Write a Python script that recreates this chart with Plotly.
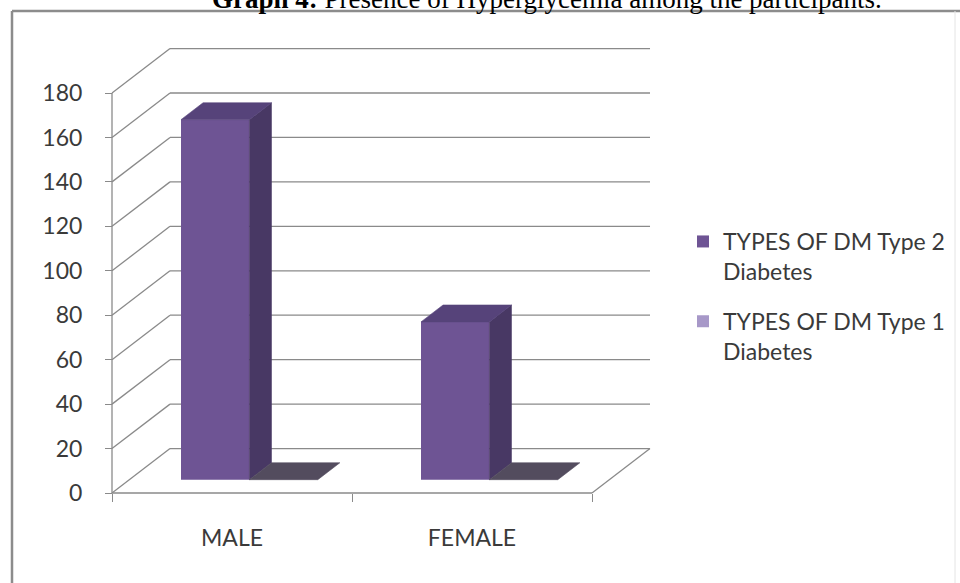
import plotly.graph_objects as go

# ---- data -------------------------------------------------------------
categories = ["MALE", "FEMALE"]
type2_values = [162, 71]
type1_values = [0, 0]
series_names = ["TYPES OF DM Type 2<br>Diabetes", "TYPES OF DM Type 1<br>Diabetes"]
tick_values = [0, 20, 40, 60, 80, 100, 120, 140, 160, 180]

# ---- colours ----------------------------------------------------------
TYPE2_FRONT = "#6E5494"
TYPE2_SIDE = "#483864"
TYPE2_TOP = "#56437A"
TYPE1_LEGEND = "#A798C8"
TYPE1_FLAT = "#534C5E"
GRID = "#8A8A8A"
TEXT = "#3A3A3A"

# ---- pseudo-3D geometry (axis units) ----------------------------------
DX = 0.2417      # horizontal shift of the back wall, in category units
DY = 20          # vertical shift of the back wall, in value units
D0, D1 = 0.30, 0.68   # depth slab the bars stand in (0 = front, 1 = back)
W = 0.285        # bar width in category units

# plot box and ranges
L, R, T, B = 107, 305, 44, 86
FIG_W, FIG_H = 960, 583
PLOT_W = FIG_W - L - R
PLOT_H = FIG_H - T - B
X0 = -0.5 - 5 / 240.0
X1 = X0 + PLOT_W / 240.0
Y0 = -4 / 2.2222
Y1 = Y0 + PLOT_H / 2.2222

positions = list(range(len(categories)))
boundaries = [p - 0.5 for p in positions] + [positions[-1] + 0.5]


def paper_x(px):
    return (px - L) / PLOT_W


def paper_y(py):
    return (FIG_H - B - py) / PLOT_H


def proj(x, v, d):
    return x + d * DX, v + d * DY


fig = go.Figure()

# front faces of the bars (also give the legend entries)
fig.add_trace(go.Bar(
    x=positions, y=type2_values, base=[D0 * DY] * len(categories),
    width=W, offset=-W + D0 * DX, name=series_names[0],
    marker=dict(color=TYPE2_FRONT, line=dict(width=0)),
    legendgroup="t2", hoverinfo="skip",
))
fig.add_trace(go.Bar(
    x=positions, y=type1_values, base=[D0 * DY] * len(categories),
    width=W, offset=D0 * DX, name=series_names[1],
    marker=dict(color=TYPE1_LEGEND, line=dict(width=0)),
    legendgroup="t1", hoverinfo="skip",
))


def add_poly(pts, color):
    xs = [p[0] for p in pts] + [pts[0][0]]
    ys = [p[1] for p in pts] + [pts[0][1]]
    fig.add_trace(go.Scatter(
        x=xs, y=ys, mode="lines", fill="toself", fillcolor=color,
        line=dict(width=0.6, color=color), showlegend=False, hoverinfo="skip",
    ))


# top and side faces
for i, val in zip(positions, type2_values):
    xl, xr = i - W, i
    add_poly([proj(xr, 0, D0), proj(xr, 0, D1), proj(xr, val, D1), proj(xr, val, D0)], TYPE2_SIDE)
    add_poly([proj(xl, val, D0), proj(xr, val, D0), proj(xr, val, D1), proj(xl, val, D1)], TYPE2_TOP)

for i, val in zip(positions, type1_values):
    xl, xr = i, i + W
    if val > 0:
        add_poly([proj(xr, 0, D0), proj(xr, 0, D1), proj(xr, val, D1), proj(xr, val, D0)], TYPE2_SIDE)
    add_poly([proj(xl, val, D0), proj(xr, val, D0), proj(xr, val, D1), proj(xl, val, D1)], TYPE1_FLAT)

# walls: gridlines on side + back wall, floor edges, front value axis
shapes = []
x_left, x_right = boundaries[0], boundaries[-1]
for v in tick_values:
    bx, by = proj(x_left, v, 1)
    shapes.append(dict(type="line", xref="x", yref="y", x0=x_left, y0=v, x1=bx, y1=by,
                       line=dict(color=GRID, width=1.3), layer="below"))
    ex, ey = proj(x_right, v, 1)
    shapes.append(dict(type="line", xref="x", yref="y", x0=bx, y0=by, x1=ex, y1=ey,
                       line=dict(color=GRID, width=1.3), layer="below"))
shapes.append(dict(type="line", xref="x", yref="y", x0=x_left, y0=0, x1=x_right, y1=0,
                   line=dict(color=GRID, width=1.3), layer="below"))
fx, fy = proj(x_right, 0, 1)
shapes.append(dict(type="line", xref="x", yref="y", x0=x_right, y0=0, x1=fx, y1=fy,
                   line=dict(color=GRID, width=1.3), layer="below"))
shapes.append(dict(type="line", xref="x", yref="y", x0=x_left, y0=0, x1=x_left, y1=tick_values[-1],
                   line=dict(color=GRID, width=1.3), layer="below"))

# outer frame of the chart area
shapes.append(dict(type="line", xref="paper", yref="paper",
                   x0=paper_x(12), y0=paper_y(11), x1=paper_x(965), y1=paper_y(11),
                   line=dict(color="#8C8C8C", width=2.5)))
shapes.append(dict(type="line", xref="paper", yref="paper",
                   x0=paper_x(12), y0=paper_y(11), x1=paper_x(12), y1=paper_y(595),
                   line=dict(color="#8C8C8C", width=2.5)))
shapes.append(dict(type="line", xref="paper", yref="paper",
                   x0=paper_x(955), y0=paper_y(11), x1=paper_x(955), y1=paper_y(595),
                   line=dict(color="#E4E4E4", width=1)))

fig.update_layout(
    width=FIG_W, height=FIG_H,
    margin=dict(l=L, r=R, t=T, b=B, autoexpand=False),
    paper_bgcolor="white", plot_bgcolor="white",
    barmode="overlay",
    shapes=shapes,
    showlegend=True,
    legend=dict(
        x=paper_x(683), y=paper_y(220), xanchor="left", yanchor="top",
        font=dict(family="Lato", size=23, color=TEXT),
        valign="top", tracegroupgap=17, bgcolor="rgba(0,0,0,0)",
        traceorder="grouped",
    ),
    xaxis=dict(
        range=[X0, X1], showgrid=False, showline=False, zeroline=False,
        tickvals=positions, ticktext=categories, ticks="",
        minor=dict(tickvals=boundaries, ticks="outside", ticklen=8, tickwidth=1.3,
                   tickcolor=GRID, showgrid=False),
        tickfont=dict(family="Lato", size=23, color=TEXT),
        anchor="free", position=(0 - Y0) / (Y1 - Y0),
        ticklabelstandoff=29, fixedrange=True,
    ),
    yaxis=dict(
        range=[Y0, Y1], tickvals=tick_values, showgrid=False, showline=False, zeroline=False,
        ticks="outside", ticklen=7, tickwidth=1.3, tickcolor=GRID,
        tickfont=dict(family="Lato", size=23, color=TEXT),
        anchor="free", position=(-0.5 - X0) / (X1 - X0),
        ticklabelstandoff=18, fixedrange=True,
    ),
    annotations=[dict(
        text="<b>Graph 4:</b> Presence of Hyperglycemia among the participants.",
        xref="paper", yref="paper", x=paper_x(547), y=paper_y(-1),
        xanchor="center", yanchor="middle", showarrow=False,
        font=dict(family="Liberation Serif", size=27, color="black"),
    )],
)

fig.write_html("out.html")
